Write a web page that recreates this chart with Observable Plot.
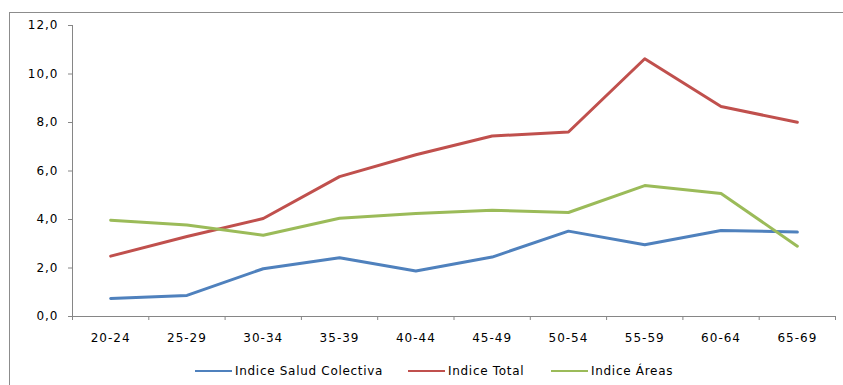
<!DOCTYPE html>
<html lang="es">
<head>
<meta charset="utf-8">
<script src="https://cdn.jsdelivr.net/npm/d3@7"></script>
<script src="https://cdn.jsdelivr.net/npm/@observablehq/plot@0.6"></script>
<style>
  html, body { margin: 0; padding: 0; background: #fff; }
  #wrap { position: relative; width: 843px; height: 385px; overflow: hidden; background: #fff; }
  #frame { position: absolute; left: 9px; top: 12px; width: 900px; height: 420px;
           border-left: 1px solid #8c8c8c; border-top: 1px solid #8c8c8c; }
  #chart { position: absolute; left: 0; top: 0; }
  #legend { position: absolute; top: 362px; left: 0; width: 843px; height: 18px;
            font-family: "DejaVu Sans", sans-serif; font-size: 12px; letter-spacing: 0.7px; color: #000; }
  .item { position: absolute; display: flex; align-items: center; height: 18px; white-space: nowrap; }
  .swatch { display: inline-block; width: 37px; height: 2.5px; margin-right: 3px; }
</style>
</head>
<body>
<div id="wrap">
  <div id="frame"></div>
  <div id="chart"></div>
  <div id="legend"></div>
</div>
<script>
// Age groups (x categories)
const ageGroups = ["20-24", "25-29", "30-34", "35-39", "40-44", "45-49", "50-54", "55-59", "60-64", "65-69"];

// Index values per age group
const saludColectiva = [0.74, 0.87, 1.97, 2.42, 1.88, 2.45, 3.52, 2.96, 3.55, 3.48];
const indiceTotal    = [2.49, 3.30, 4.04, 5.77, 6.67, 7.44, 7.61, 10.63, 8.66, 8.01];
const indiceAreas    = [3.97, 3.77, 3.35, 4.05, 4.25, 4.38, 4.29, 5.40, 5.07, 2.90];

const seriesNames  = ["Indice Salud Colectiva", "Indice Total", "Indice Áreas"];
const seriesColors = ["#4F81BD", "#C0504D", "#9BBB59"];
const yTicks = [0, 2, 4, 6, 8, 10, 12];

const seriesValues = [saludColectiva, indiceTotal, indiceAreas];
const rows = seriesNames.flatMap((name, s) =>
  seriesValues[s].map((value, i) => ({series: name, i, value})));

// category boundaries carry the x tick marks; labels sit at the centres
const boundaries = d3.range(ageGroups.length + 1).map(k => k - 0.5);
const axisGray = "#868686";

const chart = Plot.plot({
  width: 843,
  height: 345,
  marginLeft: 72,
  marginRight: 8,
  marginTop: 25,
  marginBottom: 29,
  style: {fontFamily: "DejaVu Sans, sans-serif", fontSize: "12px", letterSpacing: "1px", color: "#000", background: "transparent"},
  x: {type: "linear", domain: [-0.5, ageGroups.length - 0.5], axis: null},
  y: {domain: [0, 12], axis: null},
  color: {domain: seriesNames, range: seriesColors},
  marks: [
    Plot.axisY({ticks: yTicks, tickSize: 4, tickPadding: 10, stroke: axisGray, fill: "#000",
                tickFormat: d => d.toFixed(1).replace(".", ","), label: null}),
    Plot.axisX({ticks: boundaries, tickSize: 4, stroke: axisGray, tickFormat: () => "", label: null}),
    Plot.axisX({ticks: d3.range(ageGroups.length), tickSize: 0, tickPadding: 17, fill: "#000",
                tickFormat: i => ageGroups[i], label: null}),
    Plot.ruleX([-0.5], {stroke: axisGray}),
    Plot.ruleY([0], {stroke: axisGray}),
    Plot.line(rows, {x: "i", y: "value", z: "series", stroke: "series", strokeWidth: 3, strokeLinejoin: "round"})
  ]
});
document.getElementById("chart").appendChild(chart);

// Legend below the plot
const legendLeft = [195, 408, 551];
const legend = document.getElementById("legend");
seriesNames.forEach((name, s) => {
  const item = document.createElement("div");
  item.className = "item";
  item.style.left = legendLeft[s] + "px";
  const sw = document.createElement("span");
  sw.className = "swatch";
  sw.style.background = seriesColors[s];
  const label = document.createElement("span");
  label.textContent = name;
  item.appendChild(sw);
  item.appendChild(label);
  legend.appendChild(item);
});
</script>
</body>
</html>
